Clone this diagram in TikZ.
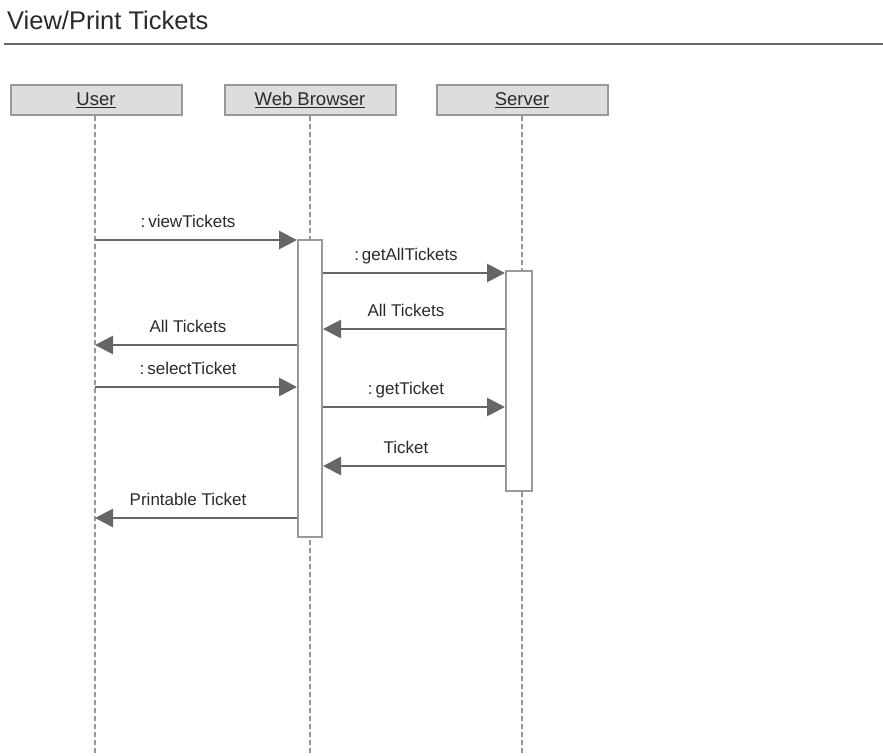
\documentclass[tikz,border=0pt]{standalone}
\usepackage{fontspec}
\setmainfont{Liberation Sans}
\usetikzlibrary{positioning, arrows.meta, calc}
\definecolor{seqline}{HTML}{666666}
\definecolor{seqgray}{HTML}{999999}
\definecolor{seqfill}{HTML}{DDDDDD}
\definecolor{seqtext}{HTML}{2A2A2A}

\begin{document}
\frenchspacing
\begin{tikzpicture}[
      x=1pt, y=-1pt,
      every node/.style={font=\fontsize{17}{20}\selectfont, text=seqtext},
      actor/.style={draw=seqgray, line width=2pt, fill=seqfill, minimum width=171pt, minimum height=30pt, inner sep=0pt, font=\fontsize{18.5}{21}\selectfont},
      lifeline/.style={draw=seqgray, line width=1.7pt, dash pattern=on 5pt off 3pt},
      actbox/.style={draw=seqgray, line width=2pt, fill=white, inner sep=0pt},
      msg/.style={draw=seqline, line width=2.8pt, -{Triangle[length=18pt, width=18pt]}},
      lbl/.style={anchor=base, inner sep=0pt, yshift=13pt, xshift=-8pt},
    ]
    \useasboundingbox (0,0) rectangle (883,755);

    % title and rule
    \node[anchor=base west, inner sep=0pt, font=\fontsize{25.5}{30}\selectfont] (title) at (7,29) {View/Print Tickets};
    \coordinate (ruleL) at (4,44);
    \coordinate (ruleR) at (883,44);
    \draw[seqline, line width=1.5pt] (ruleL) -- (ruleR);

    % actors
    \node[actor] (user) at (96,100) {\underline{User}};
    \node[actor] (browser) at (310,100) {\underline{Web Browser}};
    \node[actor] (server) at (522,100) {\underline{Server}};

    % lifelines
    \coordinate (bottom) at (0,755);
    \draw[lifeline] (user.south -| 95,0) -- (bottom -| 95,0);
    \draw[lifeline] (browser.south) -- (browser.south |- bottom);
    \draw[lifeline] (server.south) -- (server.south |- bottom);

    % activations
    \node[actbox, minimum width=24pt, minimum height=297pt] (actB) at (310,388.5) {};
    \node[actbox, minimum width=26pt, minimum height=220pt] (actS) at (519,381) {};

    % message levels on the user lifeline
    \coordinate (m1) at (95,240);
    \coordinate (m2) at (95,273);
    \coordinate (m3) at (95,329);
    \coordinate (m4) at (95,345);
    \coordinate (m5) at (95,387);
    \coordinate (m6) at (95,407);
    \coordinate (m7) at (95,466);
    \coordinate (m8) at (95,518);

    % messages
    \draw[msg] (m1) -- node[lbl] {:\kern3pt viewTickets} (actB.west |- m1);
    \draw[msg] (actB.east |- m2) -- node[lbl] {:\kern3pt getAllTickets} (actS.west |- m2);
    \draw[msg] (actS.west |- m3) -- node[lbl] {All Tickets} (actB.east |- m3);
    \draw[msg] (actB.west |- m4) -- node[lbl] {All Tickets} (m4);
    \draw[msg] (m5) -- node[lbl] {:\kern3pt selectTicket} (actB.west |- m5);
    \draw[msg] (actB.east |- m6) -- node[lbl] {:\kern3pt getTicket} (actS.west |- m6);
    \draw[msg] (actS.west |- m7) -- node[lbl] {Ticket} (actB.east |- m7);
    \draw[msg] (actB.west |- m8) -- node[lbl] {Printable Ticket} (m8);
  \end{tikzpicture}
\end{document}
